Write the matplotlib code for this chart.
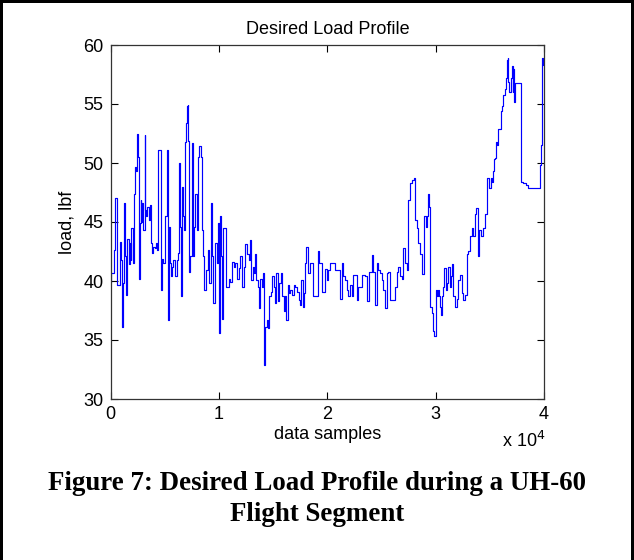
import matplotlib
matplotlib.use("Agg")
import matplotlib.pyplot as plt
from matplotlib.patches import Rectangle
from matplotlib.ticker import FuncFormatter

# ---- data (sample index, load in lbf), drawn as steps ----
samples = [
    0, 60, 305, 428, 551, 613, 890, 982, 1044, 1167, 1228, 1352, 1444, 1536, 1659, 1752, 1844, 1906,
    2029, 2152, 2275, 2367, 2460, 2521, 2614, 2675, 2767, 2829, 2921, 3014, 3137, 3198, 3291, 3383,
    3506, 3598, 3691, 3814, 3937, 4060, 4214, 4306, 4368, 4614, 4737, 4860, 4984,
    5168, 5260, 5322, 5383, 5476, 5568, 5630, 5784, 5937, 6091, 6245, 6337, 6430, 6491, 6615, 6707,
    6799, 6861, 6922, 7015, 7107, 7169, 7230, 7323, 7476, 7569, 7661, 7784, 7938, 8092, 8184, 8338,
    8400, 8554, 8646, 8769, 8954, 9077, 9262, 9385, 9477, 9631, 9785, 9877, 9939, 10000, 10092, 10185,
    10280, 10350, 10650, 10890, 11050, 11200, 11360, 11510, 11660, 11820, 11970, 12120, 12280, 12430,
    12590, 12740, 12890, 12990, 13110, 13200, 13360, 13450, 13600, 13660, 13820, 13970, 14030, 14130,
    14190, 14280, 14430, 14530, 14650, 14800, 14900, 15050, 15200, 15300, 15450, 15570, 15700, 15820,
    15970, 16130, 16220, 16340, 16430, 16590, 16740, 16900, 17050, 17200, 17360, 17510, 17600, 17730,
    17820, 17970, 18060, 18220, 18400,
    18710, 19170, 19250, 19480, 19790, 19940, 20100, 20250, 20710, 21170, 21330, 21480, 21630, 21790,
    21940, 22100, 22250, 22400, 22710, 22870, 23170, 23480, 23700, 23880, 24100, 24250, 24410, 24560,
    24710, 24870, 25020, 25170, 25330, 25480, 25640, 25790, 26250, 26410, 26560, 26710, 26870, 27020,
    27180, 27330,
    27480, 27638, 27792, 28038, 28100, 28253, 28407, 28561, 28715, 28961, 29084, 29207, 29331, 29423,
    29515, 29638, 29792, 29885, 30008, 30100, 30192, 30316, 30408, 30500, 30623, 30716, 30808, 30931,
    31054, 31177, 31300, 31424, 31547, 31639, 31793, 31947, 32101, 32255, 32409, 32562, 32716, 32870,
    33024, 33178, 33332, 33486, 33640, 33763, 33886, 34009, 34194, 34409, 34563,
    34717, 34778, 34963, 35086, 35209, 35271, 35394, 35517, 35578, 35702, 35794, 36010, 36133, 36256,
    36410, 36502, 36564, 36656, 36718, 36810, 36933, 37056, 37118, 37179, 37241, 37333, 37887, 38103,
    38349, 38565, 39642, 39734, 39796, 39888, 40000,
]
load = [
    39.9, 40.7, 42.6, 47.0, 44.5, 39.7, 43.3, 41.8, 36.1, 39.8, 46.6, 42.1, 38.8, 43.6, 41.4, 43.2, 41.8, 44.5,
    41.5, 47.4, 49.7, 49.3, 52.5, 50.5, 40.2, 44.9, 46.9, 45.0, 46.6, 44.3, 52.4, 46.0, 45.5, 46.3,
    45.2, 46.4, 43.2, 42.4, 42.9, 42.8, 43.2, 42.6, 51.1, 39.2, 41.9, 41.5, 45.5,
    51.1, 48.3, 36.7, 44.6, 41.5, 40.4, 41.2, 41.8, 40.4, 41.8, 42.4, 50.0, 44.6, 38.7, 48.0, 45.5,
    44.3, 51.8, 53.4, 54.8, 54.9, 51.9, 40.8, 42.1, 51.7, 42.1, 44.6, 47.4, 44.3, 50.5, 51.4, 50.5,
    44.3, 42.1, 39.2, 40.9, 42.6, 39.8, 46.6, 42.1, 38.1, 43.2, 41.5, 42.6, 44.9, 35.6, 45.5, 42.1,
    36.8, 44.5, 39.5, 40.2, 39.9, 41.6, 41.2, 41.5, 40.2, 41.1, 42.1, 39.5, 41.2, 43.1,
    42.3, 41.8, 43.5, 40.1, 41.2, 40.7, 42.3, 40.1, 39.5, 37.7, 40.2, 39.5, 40.7, 36.7,
    32.9, 36.1, 36.7, 36.0, 38.7, 39.1, 40.4, 39.5, 38.1, 40.7, 38.3, 39.8, 40.7, 38.7,
    37.5, 38.7, 36.7, 39.7, 39.0, 39.2, 38.8, 39.7, 39.5, 39.1, 38.4, 38.0, 40.1, 37.8,
    39.0, 41.5, 42.9, 40.7, 41.5,
    38.7, 42.5, 41.5, 39.1, 41.0, 40.1, 40.9, 41.5, 40.9, 38.5, 41.5, 40.4, 40.1, 39.2,
    38.7, 39.7, 38.7, 40.5, 38.4, 39.5, 40.5, 40.4, 38.3, 40.8, 42.2, 40.8, 38.0, 41.5,
    40.9, 40.7, 40.1, 39.2, 37.7, 40.7, 40.8, 38.4, 39.5, 40.8, 41.2, 40.4, 40.2, 42.8,
    41.5, 40.9,
    46.9, 48.3, 48.6, 48.7, 45.2, 44.5, 43.2, 42.3, 40.6, 45.5, 44.6, 45.5, 47.4, 46.3,
    37.8, 37.3, 35.8, 35.3, 39.2, 38.7, 39.2, 38.7, 37.8, 37.1, 38.7, 39.5, 41.1, 39.2,
    39.8, 41.2, 39.5, 40.4, 41.4, 38.7, 37.8, 38.5, 40.1, 40.5, 39.0, 38.4, 38.8, 42.3,
    42.5, 43.8, 44.5, 43.8, 45.7, 46.2, 42.1, 44.3, 43.8, 44.5, 45.7,
    46.0, 48.7, 47.9, 48.7, 48.4, 49.3, 50.3, 50.4, 51.8, 51.5, 52.9, 54.4, 54.8, 55.8,
    56.3, 57.2, 58.7, 58.9, 56.9, 56.0, 57.2, 58.2, 56.0, 58.0, 55.2, 56.8, 48.4, 48.3,
    48.1, 47.9, 49.8, 51.5, 58.9, 58.3, 58.3,
]

x_ticks = [0, 10000, 20000, 30000, 40000]
y_ticks = [30, 35, 40, 45, 50, 55, 60]
title = "Desired Load Profile"
xlabel = "data samples"
ylabel = "load, lbf"
caption = "Figure 7: Desired Load Profile during a UH-60\nFlight Segment"

plt.rcParams['font.family'] = ['Liberation Sans', 'DejaVu Sans']

W, H = 634, 560
fig = plt.figure(figsize=(W / 100, H / 100), dpi=100)
fig.patch.set_facecolor('white')

ax = fig.add_axes([110.7 / W, 1 - 399 / H, (544 - 110.7) / W, (399 - 45) / H])
ax.plot(samples, load, drawstyle='steps-post', color='#0000ff', lw=0.85)
ax.set_xlim(0, 40000)
ax.set_ylim(30, 60)
ax.set_xticks(x_ticks)
ax.set_yticks(y_ticks)
ax.xaxis.set_major_formatter(FuncFormatter(lambda v, p: f"{v/1e4:g}"))
ax.tick_params(direction='in', top=True, right=True, length=5, width=0.8,
               labelsize=13, colors='black', pad=5)
for s in ax.spines.values():
    s.set_linewidth(0.9)
    s.set_color('#333333')

ax.set_title(title, fontsize=13, pad=8)
ax.set_xlabel(xlabel, fontsize=13, labelpad=2)
ax.set_ylabel(ylabel, fontsize=13, labelpad=6)
fig.text(545 / W, 1 - 441 / H, r"x 10$^4$", fontsize=13, ha='right', va='center')

fig.text(0.5, 1 - 499 / H, caption, fontsize=19.4, fontweight='bold',
         family='Liberation Serif', ha='center', va='center', linespacing=1.3)

# black frame (top, left, right)
fig.add_artist(Rectangle((0, 0), 3 / W, 1, transform=fig.transFigure, color='black', lw=0))
fig.add_artist(Rectangle((1 - 3 / W, 0), 3 / W, 1, transform=fig.transFigure, color='black', lw=0))
fig.add_artist(Rectangle((0, 1 - 3 / H), 1, 3 / H, transform=fig.transFigure, color='black', lw=0))

fig.savefig("out.png", dpi=100)
